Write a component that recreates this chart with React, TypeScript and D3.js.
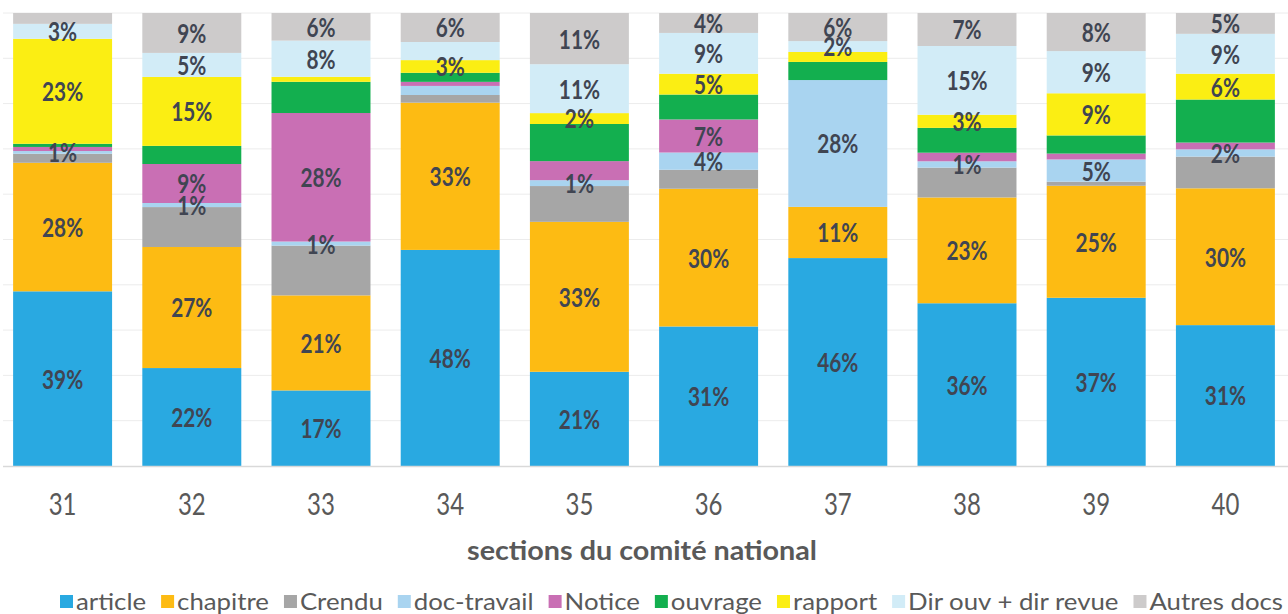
import React, { useEffect, useRef } from "react";
import * as d3 from "d3";

const sections = ["31", "32", "33", "34", "35", "36", "37", "38", "39", "40"];
const seriesKeys = ["article", "chapitre", "crendu", "docTravail", "notice", "ouvrage", "rapport", "dirOuv", "autres"];
const seriesNames = ["article", "chapitre", "Crendu", "doc-travail", "Notice", "ouvrage", "rapport", "Dir ouv + dir revue", "Autres docs"];
const seriesColors = ["#29A9E1", "#FDBB13", "#A6A6A6", "#A9D4F0", "#C96FB4", "#13AF4F", "#FBEE13", "#D2ECF7", "#CDCBCB"];

const article = [38.6, 21.6, 16.7, 47.7, 20.8, 30.8, 45.9, 36.0, 37.1, 31.1];
const chapitre = [28.4, 26.7, 21.0, 32.5, 33.1, 30.4, 11.3, 23.4, 24.7, 30.2];
const crendu = [2.0, 8.8, 11.0, 1.7, 7.9, 4.2, 0, 6.6, 0.9, 7.0];
const docTravail = [0.6, 0.9, 0.9, 2.0, 1.3, 3.8, 28.0, 1.4, 4.9, 1.6];
const notice = [0.9, 8.6, 28.4, 0.9, 4.2, 7.3, 0, 1.9, 1.3, 1.5];
const ouvrage = [0.7, 4.0, 6.9, 2.0, 8.2, 5.5, 4.0, 5.5, 4.0, 9.5];
const rapport = [23.2, 15.2, 1.1, 2.8, 2.4, 4.6, 2.2, 2.9, 9.3, 5.7];
const dirOuv = [3.3, 5.3, 8.0, 4.0, 10.8, 9.0, 2.4, 15.2, 9.3, 8.8];
const autres = [2.4, 8.8, 6.1, 6.4, 11.3, 4.4, 6.2, 7.3, 8.4, 4.6];

const labeledSeries = [
  ["article", "chapitre", "docTravail", "rapport", "dirOuv"],
  ["article", "chapitre", "docTravail", "notice", "rapport", "dirOuv", "autres"],
  ["article", "chapitre", "docTravail", "notice", "dirOuv", "autres"],
  ["article", "chapitre", "rapport", "autres"],
  ["article", "chapitre", "docTravail", "rapport", "dirOuv", "autres"],
  ["article", "chapitre", "docTravail", "notice", "rapport", "dirOuv", "autres"],
  ["article", "chapitre", "docTravail", "dirOuv", "autres"],
  ["article", "chapitre", "docTravail", "rapport", "dirOuv", "autres"],
  ["article", "chapitre", "docTravail", "rapport", "dirOuv", "autres"],
  ["article", "chapitre", "docTravail", "rapport", "dirOuv", "autres"],
];

const xTitle = "sections du comité national";
const yTicks = [0, 0.1, 0.2, 0.3, 0.4, 0.5, 0.6, 0.7, 0.8, 0.9, 1];

const W = 1288;
const H = 614;
const NARROW = 0.8; // horizontal compression of digits/labels in the reference
const FONT = "Lato, 'Open Sans', sans-serif";

export default function App() {
  const ref = useRef<SVGSVGElement | null>(null);

  useEffect(() => {
    const svg = d3.select(ref.current);
    svg.selectAll("*").remove();

    const valuesByKey: Record<string, number[]> = { article, chapitre, crendu, docTravail, notice, ouvrage, rapport, dirOuv, autres };
    const rows = sections.map((s, i) => {
      const r: any = { section: s, idx: i };
      seriesKeys.forEach((k) => (r[k] = valuesByKey[k][i]));
      return r;
    });

    const x = d3.scaleBand<string>().domain(sections).range([-2, 1290]).paddingInner(0.234).paddingOuter(0.117);
    const y = d3.scaleLinear().domain([0, 1]).range([466, 13]);
    const color = d3.scaleOrdinal<string, string>().domain(seriesKeys).range(seriesColors);

    const stacked = d3.stack<any>().keys(seriesKeys).offset(d3.stackOffsetExpand)(rows);

    // gridlines
    svg.append("g")
      .selectAll("line")
      .data(yTicks.slice(1))
      .join("line")
      .attr("x1", 3)
      .attr("x2", W)
      .attr("y1", (d) => y(d))
      .attr("y2", (d) => y(d))
      .attr("stroke", "#ECECEC")
      .attr("stroke-width", 1);

    // bars
    const layers = svg.append("g")
      .selectAll("g")
      .data(stacked)
      .join("g")
      .attr("fill", (d) => color(d.key));
    layers.selectAll("rect")
      .data((d) => d)
      .join("rect")
      .attr("x", (d: any) => x(d.data.section)!)
      .attr("width", x.bandwidth())
      .attr("y", (d) => y(d[1]))
      .attr("height", (d) => Math.max(0, y(d[0]) - y(d[1])));

    // baseline
    svg.append("line")
      .attr("x1", 3)
      .attr("x2", W)
      .attr("y1", y(0) + 0.5)
      .attr("y2", y(0) + 0.5)
      .attr("stroke", "#D9D9D9")
      .attr("stroke-width", 1.5);

    // value labels
    const labelG = svg.append("g");
    stacked.forEach((layer) => {
      layer.forEach((d: any) => {
        const i = d.data.idx;
        if (!labeledSeries[i].includes(layer.key)) return;
        const v = valuesByKey[layer.key][i];
        const cx = x(d.data.section)! + x.bandwidth() / 2;
        const cy = (y(d[0]) + y(d[1])) / 2;
        labelG.append("text")
          .attr("transform", `translate(${cx},${cy}) scale(${NARROW},1)`)
          .attr("text-anchor", "middle")
          .attr("dominant-baseline", "central")
          .attr("font-family", FONT)
          .attr("font-weight", 700)
          .attr("font-size", 26)
          .attr("fill", "#404552")
          .text(`${Math.round(v)}%`);
      });
    });

    // x axis tick labels
    const xAxis = d3.axisBottom(x).tickSize(0).tickPadding(0);
    const axG = svg.append("g").attr("transform", `translate(0, 503)`).call(xAxis);
    axG.select(".domain").remove();
    axG.selectAll("text")
      .attr("transform", `scale(${NARROW},1)`)
      .attr("x", 0)
      .attr("y", 0)
      .attr("dy", "0")
      .attr("font-family", FONT)
      .attr("font-size", 30)
      .attr("fill", "#595959")
      .attr("dominant-baseline", "central");

    // axis title
    svg.append("text")
      .attr("x", 642)
      .attr("y", 549)
      .attr("text-anchor", "middle")
      .attr("dominant-baseline", "central")
      .attr("font-family", FONT)
      .attr("font-weight", 700)
      .attr("font-size", 27)
      .attr("fill", "#595959")
      .attr("textLength", 350)
      .attr("lengthAdjust", "spacingAndGlyphs")
      .text(xTitle);

    // legend
    const legG = svg.append("g");
    const sq = 13;
    const sqGap = 3;
    const itemGap = 15;
    const texts = seriesKeys.map((k, i) => {
      const g = legG.append("g");
      g.append("rect").attr("width", sq).attr("height", sq).attr("y", 595).attr("fill", color(k));
      const t = g.append("text")
        .attr("x", sq + sqGap)
        .attr("y", 601)
        .attr("dominant-baseline", "central")
        .attr("font-family", FONT)
        .attr("font-size", 23)
        .attr("fill", "#595959")
        .text(seriesNames[i]);
      const w = (t.node() as SVGTextElement).getComputedTextLength();
      return { g, t, w };
    });
    const legLeft = 60;
    const legRight = 1283;
    const fixed = texts.length * (sq + sqGap) + (texts.length - 1) * itemGap;
    const k = (legRight - legLeft - fixed) / d3.sum(texts, (d) => d.w);
    let cx = legLeft;
    texts.forEach((it) => {
      const tw = it.w * k;
      it.t.attr("textLength", tw).attr("lengthAdjust", "spacingAndGlyphs");
      it.g.attr("transform", `translate(${cx},0)`);
      cx += sq + sqGap + tw + itemGap;
    });
  }, []);

  return (
    <svg
      ref={ref}
      width={W}
      height={H}
      style={{ position: "absolute", left: 0, top: 0, display: "block", background: "#fff" }}
    />
  );
}
